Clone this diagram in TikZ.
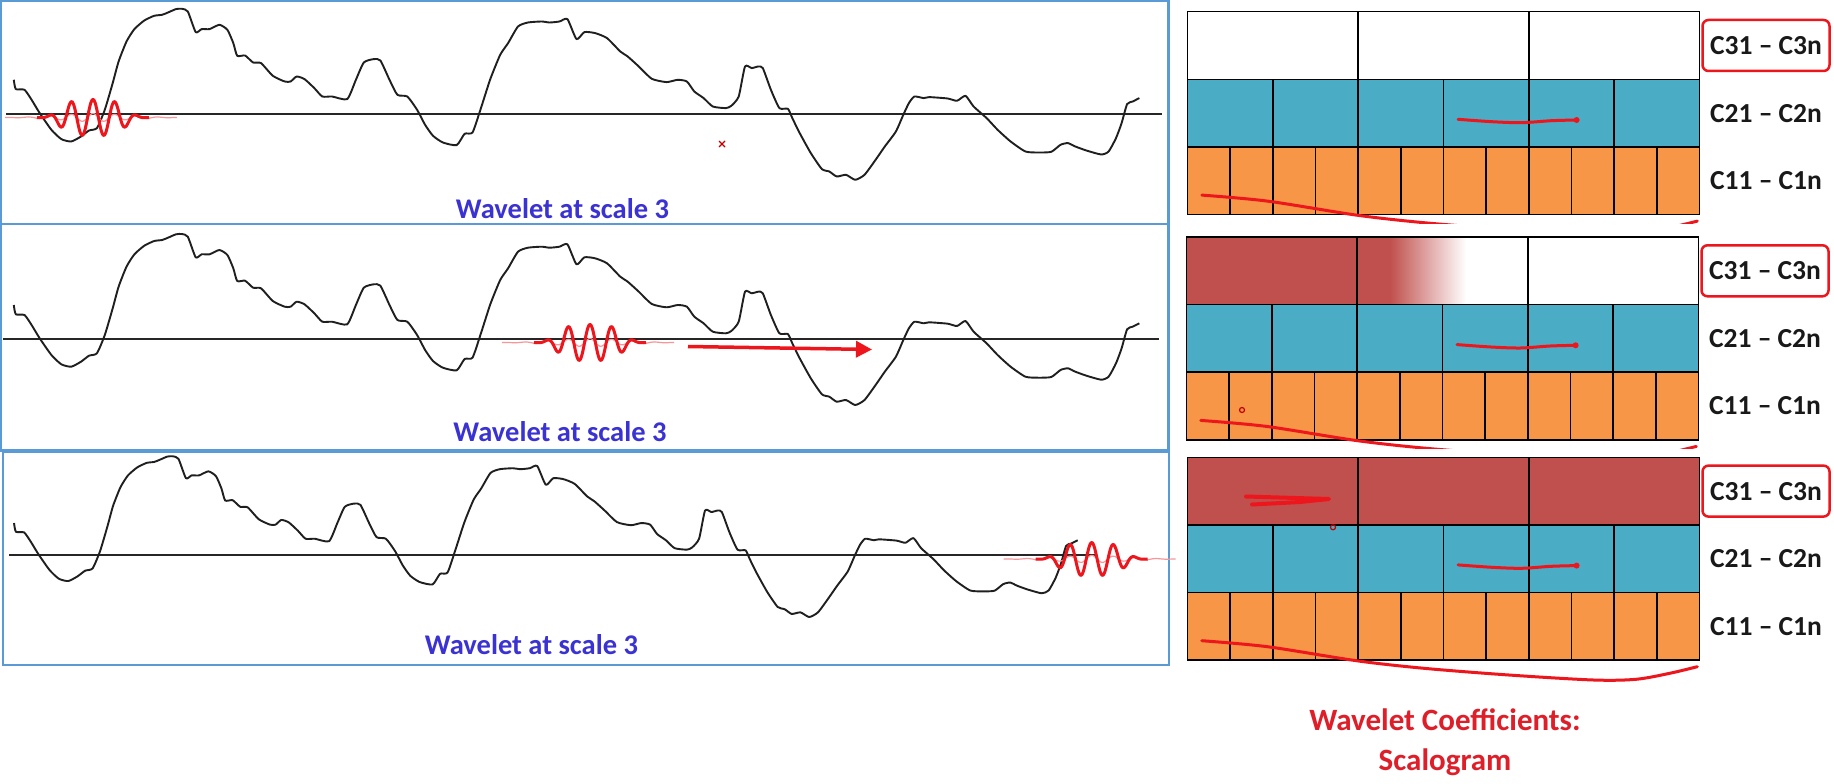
\documentclass[tikz,border=0pt]{standalone}
\usepackage{fontspec}
\setmainfont{Carlito}
\usetikzlibrary{arrows.meta}

\definecolor{painelazul}{RGB}{91,155,213}
\definecolor{celazul}{RGB}{75,172,198}
\definecolor{cellaranja}{RGB}{247,150,70}
\definecolor{celvermelho}{RGB}{192,80,77}
\definecolor{textoazul}{RGB}{58,50,210}
\definecolor{textovermelho}{RGB}{222,30,40}
\definecolor{traco}{RGB}{236,22,28}

% sinal desenhado em cada painel (y relativo ao eixo)
\newcommand{\sinal}{%
  \draw[trace] plot[smooth, tension=0.35] coordinates {(13.8,-34) (15.8,-24.7) (24.5,-24) (31.6,-14) (39.5,-1) (51.4,16) (61.3,25.3) (71.2,27.7) (81,22.7) (89,16.7) (96.9,14.3) (104.8,-4) (112.7,-30.7) (118.6,-52.3) (126.5,-72.3) (134.4,-84.7) (144.3,-93.3) (154.2,-98) (162.1,-99) (168,-101.3) (176,-104.7) (181.9,-105) (187.8,-102.3) (195.7,-81.7) (201.7,-84.7) (209.6,-84.7) (219.4,-89) (227.4,-84) (233.3,-70.7) (237.2,-58) (245.1,-58.3) (253.1,-51.3) (261,-50.7) (272.8,-38) (284.7,-32.3) (290.6,-32.3) (296.6,-37.3) (304.5,-34.7) (314.3,-25.7) (322.3,-17.3) (332.1,-17.3) (347.2,-14.7) (355.9,-34) (363.8,-51.3) (373.7,-54.7) (380.4,-53.3) (389.5,-34) (397.4,-19) (407.3,-17.3) (417.1,-4) (425.1,11) (433,22) (442.9,28.7) (456.7,31.3) (464.6,20) (472.5,18.7) (480.4,-4) (490.3,-34.7) (500.2,-59) (508.1,-70.7) (518,-87.3) (527.9,-91.3) (541.7,-92.3) (549.6,-91.3) (559.5,-92.3) (567.4,-94.7) (576.5,-74.7) (584.4,-81.7) (595.1,-80.7) (607,-75.7) (620.3,-62.3) (627.7,-57.3) (638.8,-47.3) (651.8,-35) (666.6,-31.7) (677.7,-34) (686.9,-32.3) (694.3,-22.3) (703.6,-15.7) (712.8,-7.3) (725.8,-5.7) (731.3,-8) (738.7,-17.3) (745,-47.3) (751.7,-45.7) (758.3,-47.3) (762.8,-45.7) (770.9,-24) (779.4,-5.7) (787.9,-5) (792.3,4.3) (799.7,19.3) (810.8,39.3) (821.9,55.3) (829.3,57.7) (836.7,62.7) (846,61) (855.2,66) (864.5,61) (875.6,46) (884.8,32.7) (895.9,17.7) (903.3,1) (908.9,-10.7) (914.4,-17.3) (923.7,-15.7) (929.2,-16.7) (947.7,-15.3) (957,-13) (965.5,-18) (973.6,-7.3) (986.6,4.3) (997.6,16) (1010.6,27.7) (1025.4,37.7) (1038.3,38.7) (1051.3,38) (1060.5,31) (1067.9,29.3) (1075.3,32.7) (1086.4,36.7) (1101.2,40.7) (1108.6,37.7) (1116,24.3) (1121.6,9.3) (1127.1,-9.7) (1132.7,-12.3) (1139.3,-15.7)};}

% ondaleta (centrada na origem), periodo 21.7
\newcommand{\ondaleta}{%
  \draw[wavetail] plot[domain=-88:84, samples=120] (\x, {-4*cos(16.59*\x)*exp(-\x*\x/2000)});
  \draw[wavelet] plot[domain=-56:56, samples=180] (\x, {-18*cos(16.59*\x)*exp(-(\x*\x/1300)*(\x*\x/1300))});}

% linhas C2 e C1 do escalograma
\newcommand{\linhasbaixo}[1]{%
  \foreach \i in {0,...,5}
    \draw[cell, fill=celazul] (\i*85.333,67.6) rectangle ++(85.333,67.6);
  \foreach \i in {0,...,11}
    \draw[cell, fill=cellaranja] (\i*42.667,135.2) rectangle ++(42.667,67.6);
  \node[coefsel] (c3#1) at (578.5,33.8) {C31 – C3n};
  \node[coef] (c2#1) at (578.5,101.4) {C21 – C2n};
  \node[coef] (c1#1) at (578.5,169) {C11 – C1n};
  \draw[risco] plot[smooth] coordinates {(270.5,107.6) (304.4,110) (334,111) (363.7,109) (389.1,108.3)};
  \fill[traco] (389.1,108.3) circle (3pt);}

\newcommand{\riscolaranja}{%
  \draw[risco] plot[smooth] coordinates {(14.3,183.4) (79.9,189.4) (168.8,203.4) (236.5,211) (321.3,217.7) (406,222.7) (448.4,222) (482.2,216) (509.8,209.4)};}

\begin{document}
\begin{tikzpicture}[x=1pt,y=-1pt]
        %======definicao dos estilos==========%

            \tikzstyle{panel}=[draw=painelazul,line width=2.4pt]
            \tikzstyle{eixo}=[draw=black!85,line width=2pt]
            \tikzstyle{trace}=[draw=black!88,line width=1.9pt,line join=round]
            \tikzstyle{wavelet}=[draw=traco,line width=3pt,line join=round]
            \tikzstyle{wavetail}=[draw=traco!45,line width=1.2pt]
            \tikzstyle{seta}=[draw=traco,line width=3.5pt,-{Triangle[length=16pt,width=16pt]}]
            \tikzstyle{rotulo}=[anchor=base,text=textoazul,font=\fontsize{28.5}{34}\selectfont\bfseries]
            \tikzstyle{titulo}=[anchor=base,text=textovermelho,font=\fontsize{31}{38}\selectfont\bfseries]
            \tikzstyle{cell}=[draw=black,line width=1.5pt]
            \tikzstyle{coef}=[text=black!90,font=\fontsize{27.5}{33}\selectfont\bfseries,minimum width=127pt,minimum height=51pt,inner sep=0pt,rounded corners=6pt]
            \tikzstyle{coefsel}=[coef,draw=traco,line width=2.5pt]
            \tikzstyle{risco}=[draw=traco,line width=3pt,line cap=round,line join=round]
            \tikzstyle{marca}=[draw=red!75!black,line width=1.2pt]

        %====================%%=============%

            \useasboundingbox (0,0) rectangle (1834,784);
            \fill[white] (0,0) rectangle (1834,784);

        %======paineis do sinal==========%
            \draw[panel] (1,1) rectangle (1168.5,224);
            \draw[panel] (1,224) rectangle (1168.5,450.5);
            \draw[panel] (3,451.5) rectangle (1169,665);

            \draw[eixo] (6,113.6) -- (1161.5,113.6);
            \draw[eixo] (3,339) -- (1159,339);
            \draw[eixo] (9.3,555) -- (1095,555);

            \begin{scope}[shift={(0,113.8)}] \sinal \end{scope}
            \begin{scope}[shift={(0,339)}] \sinal \end{scope}
            \begin{scope}[shift={(1,555)},xscale=0.945,yscale=0.94] \sinal \end{scope}

            \begin{scope}[shift={(93,117.5)}] \ondaleta \end{scope}
            \begin{scope}[shift={(590,342.5)}] \ondaleta \end{scope}
            \begin{scope}[shift={(1091.7,559)},yscale=0.914] \ondaleta \end{scope}

            \coordinate (setaini) at (688,346.5);
            \coordinate (setafim) at (872,349.5);
            \draw[seta] (setaini) -- (setafim);

            \node[rotulo] (rotulo1) at (562.5,218.3) {Wavelet at scale 3};
            \node[rotulo] (rotulo2) at (560,441.5) {Wavelet at scale 3};
            \node[rotulo] (rotulo3) at (531.5,654) {Wavelet at scale 3};

            \draw[marca] (719,141) -- (725,147) (719,147) -- (725,141);

        %======escalogramas==========%
            \begin{scope}[shift={(1187.5,11.7)}]
                \foreach \i in {0,1,2}
                    \draw[cell,fill=white] (\i*170.667,0) rectangle ++(170.667,67.6);
                \linhasbaixo{a}
                \begin{scope}
                    \clip (-10,-10) rectangle (530,211.5);
                    \riscolaranja
                \end{scope}
            \end{scope}

            \begin{scope}[shift={(1186.5,237)}]
                \fill[celvermelho] (0,0) rectangle (203.5,67.6);
                \shade[left color=celvermelho,right color=white] (203.5,0) rectangle (279.5,67.6);
                \foreach \i in {0,1,2}
                    \draw[cell] (\i*170.667,0) rectangle ++(170.667,67.6);
                \linhasbaixo{b}
                \begin{scope}
                    \clip (-10,-10) rectangle (530,211.5);
                    \riscolaranja
                \end{scope}
                \draw[marca] (55.5,173) circle (2.5pt);
            \end{scope}

            \begin{scope}[shift={(1187.5,457.3)}]
                \foreach \i in {0,1,2}
                    \draw[cell,fill=celvermelho] (\i*170.667,0) rectangle ++(170.667,67.6);
                \linhasbaixo{c}
                \riscolaranja
                \draw[risco,line width=4pt] (58.5,39.2) -- (141.5,41.7) -- (112.5,44.7) -- (64.5,47.2);
                \draw[marca] (145.5,70) circle (2.5pt);
            \end{scope}

            \node[titulo] (titulo1) at (1445,730.5) {Wavelet Coefficients:};
            \node[titulo] (titulo2) at (1445,770.5) {Scalogram};
        \end{tikzpicture}
\end{document}
